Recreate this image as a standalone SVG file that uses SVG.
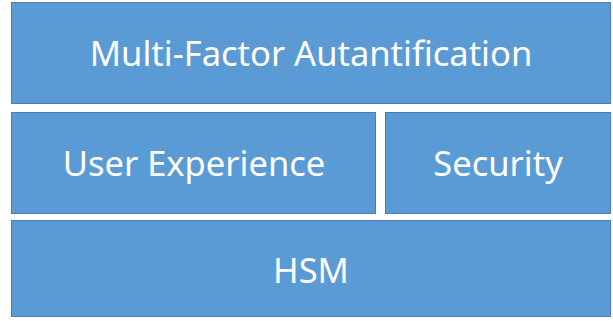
<svg xmlns="http://www.w3.org/2000/svg" width="613" height="321" viewBox="0 0 613 321">
<style>
.box{fill:#5B9BD5;stroke:#4A7FB0;stroke-width:1}
.lbl{fill:#FFFFFF;font-family:"Noto Sans","Open Sans",sans-serif;font-size:34.5px;text-anchor:middle;dominant-baseline:central}
</style>
<rect width="613" height="321" fill="#FFFFFF"/>
<g id="mfa"><rect class="box" x="11.5" y="2.5" width="599" height="101"/><text class="lbl" x="311" y="52">Multi-Factor Autantification</text></g>
<g id="ux"><rect class="box" x="11.5" y="112.5" width="364" height="101"/><text class="lbl" x="194" y="162">User Experience</text></g>
<g id="security"><rect class="box" x="385.5" y="112.5" width="225" height="101"/><text class="lbl" x="498" y="162">Security</text></g>
<g id="hsm"><rect class="box" x="11.5" y="220.5" width="599" height="96"/><text class="lbl" x="311" y="269">HSM</text></g>
<g id="connectors"></g>
</svg>
